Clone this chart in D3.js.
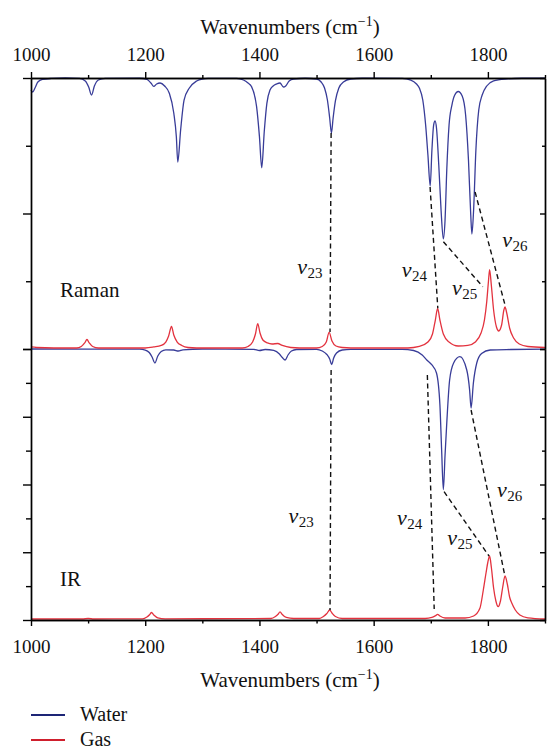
<!DOCTYPE html>
<html><head><meta charset="utf-8">
<script src="https://cdn.jsdelivr.net/npm/d3@7"></script>
<style>
html,body{margin:0;padding:0;background:#fff;}
svg{display:block;}
text{font-family:"Liberation Serif","DejaVu Serif",serif;fill:#111;}
</style></head>
<body>
<svg id="chart" width="551" height="750"></svg>
<script>
// ---------- data (wavenumber, intensity in panel units) ----------
const xMajorTicks = [1000, 1200, 1400, 1600, 1800];
const xMinorTicks = [1100, 1300, 1500, 1700, 1900];
const ramanTicks = [0, 1, 2, 3, 4];
const irTicks = [0, 1, 2, 3, 4, 5, 6, 7, 8];
const seriesNames = ["Water", "Gas"];
const panelNames = ["Raman", "IR"];

const ramanWater = [[1000,3.823],[1003,3.793],[1007,3.852],[1012,3.941],[1020,3.978],[1035,3.993],[1060,4.0],[1085,3.993],[1095,3.956],[1101,3.867],[1106,3.749],[1111,3.882],[1118,3.970],[1130,3.993],[1190,3.996],[1203,3.978],[1210,3.926],[1215,3.875],[1220,3.911],[1226,3.926],[1234,3.882],[1242,3.779],[1250,3.483],[1254.5,3.134],[1257,2.760],[1262,3.232],[1268,3.675],[1277,3.848],[1290,3.956],[1300,3.985],[1310,3.993],[1360,3.993],[1372,3.970],[1380,3.926],[1386,3.875],[1395,3.577],[1400,3.134],[1404,2.676],[1408.5,3.217],[1413,3.626],[1418.5,3.823],[1424,3.882],[1430,3.911],[1436,3.926],[1442,3.867],[1446,3.882],[1452,3.956],[1460,3.985],[1480,3.996],[1500,3.985],[1508,3.941],[1514,3.852],[1519,3.675],[1523,3.410],[1526,3.188],[1529,3.410],[1533,3.661],[1539,3.852],[1547,3.941],[1560,3.985],[1580,3.996],[1650,3.993],[1665,3.970],[1675,3.911],[1680,3.852],[1686,3.675],[1691,3.306],[1695,2.863],[1699,2.406],[1702,2.937],[1705,3.306],[1707.5,3.365],[1710,3.262],[1714,2.716],[1718,2.052],[1722,1.624],[1725,1.904],[1728,2.642],[1732,3.306],[1737,3.601],[1742,3.749],[1748,3.801],[1755,3.734],[1761,3.454],[1766,2.790],[1770,1.978],[1772,1.697],[1775,2.052],[1779,2.937],[1784,3.528],[1790,3.749],[1798,3.882],[1810,3.956],[1830,3.985],[1860,3.996],[1900,3.997]];

const ramanGas = [[1000,0.030],[1010,0.022],[1040,0.015],[1080,0.015],[1088,0.037],[1094,0.089],[1098,0.140],[1102,0.089],[1108,0.037],[1118,0.015],[1200,0.015],[1215,0.030],[1228,0.052],[1236,0.103],[1241,0.192],[1246,0.332],[1250,0.207],[1256,0.103],[1264,0.052],[1275,0.022],[1290,0.015],[1370,0.015],[1380,0.037],[1388,0.103],[1393,0.221],[1397,0.376],[1401,0.236],[1406,0.133],[1414,0.089],[1422,0.074],[1432,0.081],[1440,0.052],[1455,0.022],[1470,0.015],[1500,0.015],[1510,0.037],[1517,0.103],[1522,0.244],[1527,0.118],[1534,0.044],[1545,0.022],[1560,0.015],[1660,0.015],[1680,0.037],[1695,0.103],[1703,0.221],[1708,0.428],[1712,0.598],[1716,0.428],[1722,0.221],[1732,0.103],[1748,0.044],[1765,0.052],[1778,0.103],[1788,0.236],[1794,0.430],[1798,0.700],[1801,1.000],[1803,1.173],[1806,0.945],[1810,0.576],[1815,0.325],[1819,0.266],[1824,0.354],[1828,0.576],[1830,0.620],[1833,0.531],[1838,0.310],[1845,0.162],[1855,0.074],[1870,0.037],[1900,0.022]];

const irWater = [[1000,8.0],[1190,7.994],[1200,7.970],[1207,7.897],[1212,7.764],[1217,7.587],[1222,7.793],[1228,7.926],[1236,7.976],[1250,7.970],[1258,7.941],[1266,7.976],[1300,8.0],[1390,7.991],[1400,7.956],[1410,7.985],[1425,7.956],[1435,7.852],[1440,7.749],[1445,7.675],[1450,7.823],[1456,7.941],[1465,7.985],[1500,7.991],[1510,7.941],[1518,7.838],[1523,7.705],[1526.5,7.542],[1530,7.734],[1535,7.882],[1545,7.970],[1560,7.991],[1650,7.991],[1670,7.956],[1685,7.823],[1693,7.675],[1702,7.528],[1710,7.292],[1716,6.347],[1719,5.018],[1722,3.852],[1725,4.871],[1728,5.815],[1733,7.085],[1740,7.587],[1751,7.773],[1763,7.380],[1768,6.790],[1770.6,6.258],[1774.6,6.996],[1780.5,7.587],[1789,7.867],[1804,7.970],[1840,7.985],[1900,7.994]];

const irGas = [[1000,0.030],[1090,0.030],[1100,0.044],[1110,0.030],[1195,0.035],[1203,0.089],[1208,0.162],[1211,0.221],[1215,0.148],[1222,0.065],[1235,0.035],[1420,0.044],[1428,0.103],[1433,0.177],[1436,0.242],[1440,0.162],[1447,0.074],[1460,0.044],[1505,0.044],[1512,0.103],[1518,0.192],[1523,0.295],[1527,0.207],[1533,0.103],[1545,0.044],[1690,0.044],[1702,0.074],[1708,0.124],[1712,0.168],[1716,0.118],[1725,0.059],[1760,0.059],[1775,0.118],[1786,0.345],[1792,0.886],[1797,1.417],[1800,1.712],[1803,1.889],[1806,1.565],[1810,0.945],[1814,0.561],[1818,0.393],[1822,0.561],[1826,0.974],[1830,1.299],[1834,1.063],[1838,0.679],[1842,0.493],[1848,0.295],[1856,0.148],[1870,0.065],[1900,0.030]];

// dashed correlation lines: [label sub, wn1, v1, wn2, v2]
const ramanLinks = [["23",1525.5,3.188,1523.6,0.251],["24",1698.8,2.391,1712.3,0.601],["25",1722.1,1.584,1791,0.920],["26",1777.6,2.317,1830,0.649]];
const irLinks = [["23",1525.5,7.380,1523.6,0.295],["24",1694,7.232,1706,0.325],["25",1723.3,3.787,1802,1.889],["26",1770.6,6.199,1830,1.279]];
// mode labels: [sub, wn, value]
const ramanLabels = [["23",1466,1.114],["24",1649,1.070],["25",1737,0.797],["26",1825,1.510]];
const irLabels = [["23",1451,2.865],["24",1641,2.805],["25",1729,2.214],["26",1816,3.641]];

// ---------- layout ----------
const svg = d3.select("#chart");
const L = 31, R = 545, T = 78, M = 349, B = 620;
const x = d3.scaleLinear().domain([1000, 1900]).range([L, R]);
const yR = d3.scaleLinear().domain([0, 4]).range([M, T]);
const yI = d3.scaleLinear().domain([0, 8]).range([B, M]);
const waterColor = "#383c98", gasColor = "#e3323e";

function lineFor(y){ return d3.line().x(d=>x(d[0])).y(d=>y(d[1])).curve(d3.curveMonotoneX); }

const plot = svg.append("g");
plot.append("path").datum(ramanWater).attr("d", lineFor(yR)).attr("fill","none").attr("stroke",waterColor).attr("stroke-width",1.3);
plot.append("path").datum(irWater).attr("d", lineFor(yI)).attr("fill","none").attr("stroke",waterColor).attr("stroke-width",1.3);
plot.append("path").datum(ramanGas).attr("d", lineFor(yR)).attr("fill","none").attr("stroke",gasColor).attr("stroke-width",1.3);
plot.append("path").datum(irGas).attr("d", lineFor(yI)).attr("fill","none").attr("stroke",gasColor).attr("stroke-width",1.3);

// dashed links
function drawLinks(links, y){
  plot.selectAll(null).data(links).enter().append("line")
    .attr("x1", d=>x(d[1])).attr("y1", d=>y(d[2]))
    .attr("x2", d=>x(d[3])).attr("y2", d=>y(d[4]))
    .attr("stroke","#111").attr("stroke-width",1.4).attr("stroke-dasharray","5,3.5");
}
drawLinks(ramanLinks, yR);
drawLinks(irLinks, yI);

function drawLabels(labels, y){
  const t = plot.selectAll(null).data(labels).enter().append("text")
    .attr("x", d=>x(d[1])).attr("y", d=>y(d[2]));
  t.append("tspan").attr("font-style","italic").attr("font-size",22).text("ν");
  t.append("tspan").attr("font-size",15).attr("dy",4).attr("dx",0.5).text(d=>d[0]);
}
drawLabels(ramanLabels, yR);
drawLabels(irLabels, yI);

svg.append("text").attr("x",60).attr("y",296.5).attr("font-size",21).text(panelNames[0]);
svg.append("text").attr("x",60).attr("y",586).attr("font-size",21).text(panelNames[1]);

// ---------- axes ----------
function styleAxis(g){
  g.attr("font-family", null);
  g.selectAll("path.domain").attr("stroke","#000").attr("stroke-width",1.4);
  g.selectAll(".tick line").attr("stroke","#000").attr("stroke-width",1.4);
  g.selectAll(".tick text").attr("font-size",19).attr("fill","#111");
}
// top
const gt1 = svg.append("g").attr("transform",`translate(0,${T})`)
  .call(d3.axisTop(x).tickValues(xMajorTicks).tickSize(6).tickSizeOuter(0).tickPadding(11).tickFormat(d3.format("d")));
styleAxis(gt1);
const gt2 = svg.append("g").attr("transform",`translate(0,${T})`)
  .call(d3.axisTop(x).tickValues(xMinorTicks).tickSize(3).tickSizeOuter(0).tickFormat(""));
styleAxis(gt2);
// bottom
const gb1 = svg.append("g").attr("transform",`translate(0,${B})`)
  .call(d3.axisBottom(x).tickValues(xMajorTicks).tickSize(6).tickSizeOuter(0).tickPadding(14).tickFormat(d3.format("d")));
styleAxis(gb1);
const gb2 = svg.append("g").attr("transform",`translate(0,${B})`)
  .call(d3.axisBottom(x).tickValues(xMinorTicks).tickSize(3.5).tickSizeOuter(0).tickFormat(""));
styleAxis(gb2);

// left (outward) & right (inward)
function yAxes(y, ticks, majorEvery){
  const major = ticks.filter(t=>t % majorEvery === 0);
  const minor = ticks.filter(t=>t % majorEvery !== 0);
  const a = svg.append("g").attr("transform",`translate(${L},0)`)
    .call(d3.axisLeft(y).tickValues(major).tickSize(8).tickSizeOuter(0).tickFormat(""));
  styleAxis(a);
  const b = svg.append("g").attr("transform",`translate(${L},0)`)
    .call(d3.axisLeft(y).tickValues(minor).tickSize(5).tickSizeOuter(0).tickFormat(""));
  styleAxis(b);
  const c = svg.append("g").attr("transform",`translate(${R},0)`)
    .call(d3.axisLeft(y).tickValues(major).tickSize(5).tickSizeOuter(0).tickFormat(""));
  styleAxis(c);
  const e = svg.append("g").attr("transform",`translate(${R},0)`)
    .call(d3.axisLeft(y).tickValues(minor).tickSize(3).tickSizeOuter(0).tickFormat(""));
  styleAxis(e);
}
yAxes(yR, ramanTicks, 2);
yAxes(yI, irTicks, 2);

// axis titles
function axisTitle(yPos){
  const t = svg.append("text").attr("x",(L+R)/2 + 2).attr("y",yPos).attr("text-anchor","middle").attr("font-size",21);
  t.append("tspan").text("Wavenumbers (cm");
  t.append("tspan").attr("font-size",14).attr("dy",-8).text("−1");
  t.append("tspan").attr("dy",8).text(")");
}
axisTitle(34);
axisTitle(687);

// legend
const legend = svg.append("g");
const legColors = ["#1d2576", "#cf1f2d"];
const legY = [715, 740];
legend.selectAll(null).data(seriesNames).enter().append("line")
  .attr("x1",31).attr("x2",65).attr("y1",(d,i)=>legY[i]).attr("y2",(d,i)=>legY[i])
  .attr("stroke",(d,i)=>legColors[i]).attr("stroke-width",2);
legend.selectAll(null).data(seriesNames).enter().append("text")
  .attr("x",80).attr("y",(d,i)=>legY[i]+6).attr("font-size",20).text(d=>d);
</script>
</body></html>
